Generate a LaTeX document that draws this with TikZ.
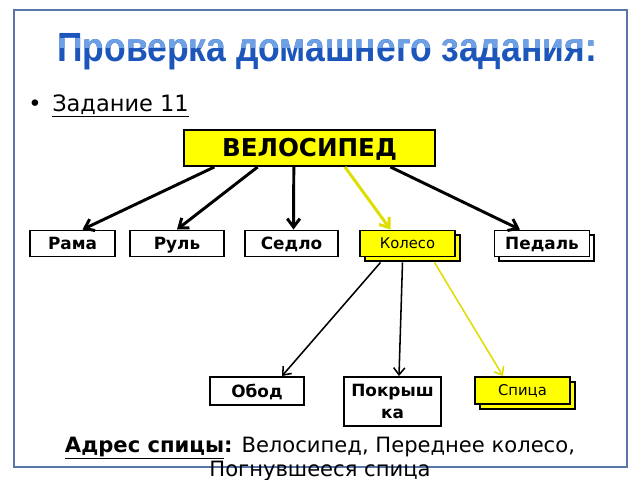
\documentclass[tikz,border=0pt]{standalone}
\usepackage{fontspec}
\setmainfont{DejaVu Sans}
\newfontfamily\titlefont{Liberation Sans}
\usetikzlibrary{positioning,arrows.meta,shadows,calc}

\definecolor{frameblue}{RGB}{88,118,168}
\definecolor{titleblue}{RGB}{28,86,186}
\definecolor{titlelight}{RGB}{110,160,230}
\definecolor{boxyellow}{RGB}{255,255,0}
\definecolor{arrowyellow}{RGB}{222,222,0}

\begin{document}
\begin{tikzpicture}[x=0.025cm, y=-0.025cm,
  bx/.style={draw, line width=1.4pt, fill=#1, inner sep=0pt, minimum width=2.35cm,
             minimum height=0.65cm, text height=8.8pt, text depth=0pt,
             font=\bfseries\fontsize{12}{14}\selectfont},
  bx/.default=white,
  sbx/.style={bx=#1, copy shadow={shadow xshift=3.5pt, shadow yshift=-3.5pt},
              text height=7.7pt, font=\fontsize{10.5}{12}\selectfont},
  ar/.style={-{Straight Barb[length=6pt,width=9pt]}, line width=2.1pt, #1},
  ar/.default=black,
  thin ar/.style={-{Straight Barb[length=5pt,width=8pt]}, line width=1.1pt, #1},
  thin ar/.default=black,
  ttl/.style={font=\titlefont\bfseries\fontsize{29}{34}\selectfont, text=#1, anchor=base}
]
\useasboundingbox (0,0) rectangle (640,480);
\fill[white] (0,0) rectangle (640,480);
\draw[frameblue, line width=2pt] (14,10) rectangle (627,467);

% title
\node[ttl=titleblue] (title) at (327,62) {\scalebox{0.87}[1]{Проверка домашнего задания:}};
\begin{scope}
  \clip (0,38) rectangle (640,47);
  \node[ttl=titlelight] (titlehl) at (327,62) {\scalebox{0.87}[1]{Проверка домашнего задания:}};
\end{scope}

\node[anchor=base, font=\fontsize{16}{19}\selectfont] (dot) at (35,111) {•};
\node[anchor=base west, inner sep=0pt, font=\fontsize{16}{19}\selectfont] (task) at (52,111)
  {\underline{Задание 11}};

% boxes
\node[bx=boxyellow, minimum width=6.275cm, minimum height=0.9cm, text height=12.8pt,
      font=\bfseries\fontsize{17.5}{20}\selectfont] (velo) at (309.5,148) {ВЕЛОСИПЕД};
\node[bx, minimum width=2.125cm] (rama)  at (72.5,243.5)  {Рама};
\node[bx]                        (rul)   at (177,243.5)   {Руль};
\node[bx, minimum width=2.325cm] (sedlo) at (291.5,243.5) {Седло};
\node[sbx=boxyellow, minimum width=2.375cm] (koleso) at (407.5,243.5) {Колесо};
\node[sbx, minimum width=2.375cm, text height=8.8pt,
      font=\bfseries\fontsize{12}{14}\selectfont] (pedal) at (542,243.5) {Педаль};

\node[bx, minimum height=0.7cm]  (obod)  at (257,391) {Обод};
\node[bx, minimum width=2.425cm, minimum height=1.225cm, align=center,
      text height=, text depth=,
      font=\bfseries\fontsize{12}{15}\selectfont] (pokr) at (392.5,401.5) {Покрыш\\ка};
\node[sbx=boxyellow, minimum width=2.375cm, minimum height=0.675cm]
      (spica) at (522.5,390.5) {Спица};

% arrows
\draw[ar] ($(velo.south west)!.124!(velo.south east)$) -- ($(rama.north)+(10,0)$);
\draw[ar] ($(velo.south west)!.295!(velo.south east)$) -- (rul.north);
\draw[ar] ($(velo.south west)!.438!(velo.south east)$) -- ($(sedlo.north)+(2,0)$);
\draw[ar=arrowyellow] ($(velo.south west)!.64!(velo.south east)$) -- ($(koleso.north)+(-17,0)$);
\draw[ar] ($(velo.south west)!.82!(velo.south east)$) -- ($(pedal.north)+(-22,0)$);

\draw[thin ar] ($(koleso.south)+(-27,5)$) -- ($(obod.north)+(25,0)$);
\draw[thin ar] ($(koleso.south)+(-5,5)$) -- ($(pokr.north)+(6.5,0)$);
\draw[thin ar=arrowyellow] ($(koleso.south)+(27,5)$) -- ($(spica.north)+(-19.5,0)$);

\node[anchor=base, align=center, font=\fontsize{15}{17}\selectfont] (addr) at (320,476)
  {\textbf{\underline{Адрес спицы}:} Велосипед, Переднее колесо,\\Погнувшееся спица};
\end{tikzpicture}
\end{document}
